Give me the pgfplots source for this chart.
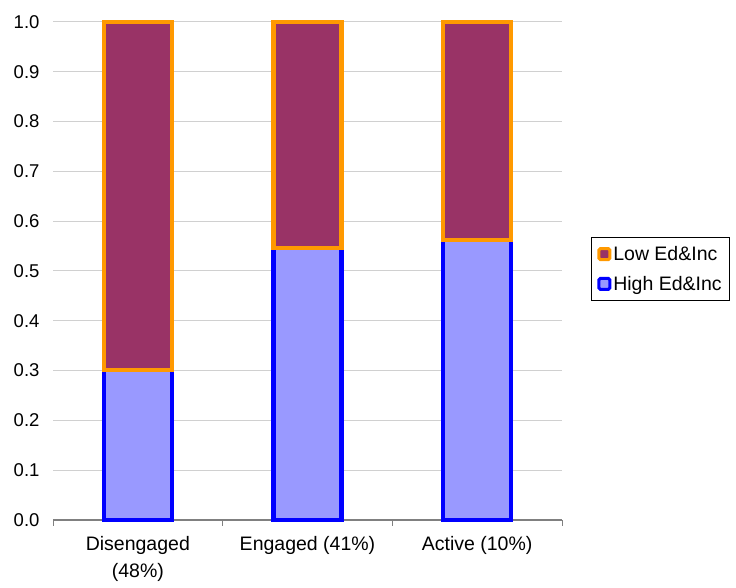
\documentclass[border=0pt]{standalone}
\usepackage{pgfplots}
\pgfplotsset{compat=1.18}
\usepackage{fontspec}
\setmainfont{Liberation Sans}

\definecolor{lowfill}{HTML}{993366}
\definecolor{lowedge}{HTML}{FF9900}
\definecolor{highfill}{HTML}{9999FF}
\definecolor{highedge}{HTML}{0000FF}
\definecolor{gridgray}{HTML}{D0D0D0}
\definecolor{axisgray}{HTML}{808080}

\begin{document}
\begin{tikzpicture}
\begin{axis}[
  set layers,
  scale only axis,
  width=509pt, height=498pt,
  clip=false,
  ybar stacked,
  bar width=68pt,
  xmin=-0.5, xmax=2.5,
  ymin=0, ymax=1,
  % category boundaries carry the tick marks
  xtick={-0.5,0.5,1.5,2.5},
  xticklabels={},
  x tick style={draw=axisgray, line width=1pt},
  tick align=outside,
  major tick length=6pt,
  % category names sit at the bar centres
  extra x ticks={0,1,2},
  extra x tick labels={Disengaged\\(48\%), Engaged (41\%), Active (10\%)},
  extra x tick style={major tick length=0pt, grid=none},
  xticklabel style={align=center, yshift=-13pt,
    font=\fontsize{19.5}{27}\selectfont},
  ytick={0,0.1,...,1.0},
  y tick style={draw=none},
  yticklabel style={/pgf/number format/fixed, /pgf/number format/fixed zerofill,
    /pgf/number format/precision=1, xshift=-4pt,
    font=\fontsize{18.5}{22}\selectfont},
  /pgf/number format/assume math mode=true,
  ymajorgrids,
  grid style={draw=gridgray, line width=1pt},
  axis x line*=bottom,
  axis y line*=left,
  y axis line style={draw=none},
  x axis line style={draw=axisgray, line width=1.2pt, -},
  reverse legend,
  legend style={at={(1.057,0.504)}, anchor=west, draw=black, line width=0.6pt,
    font=\fontsize{19.5}{23}\selectfont, inner xsep=6pt, inner ysep=7pt,
    row sep=10pt, cells={anchor=west}},
  legend image code/.code={\draw[#1, line width=3pt, rounded corners=1.5pt]
    (0pt,-5.5pt) rectangle (11pt,5.5pt);},
]
\addplot[fill=highfill, draw=highedge, line width=4.5pt] coordinates
  {(0,0.301) (1,0.546) (2,0.562)};
\addplot[fill=lowfill, draw=lowedge, line width=4.5pt, on layer=axis foreground]
  coordinates {(0,0.699) (1,0.454) (2,0.438)};
\legend{High Ed\&Inc, Low Ed\&Inc}
\end{axis}
% page frame around the axis box
\pgfresetboundingbox
\useasboundingbox ([shift={(-53pt,-68pt)}]current axis.south west) rectangle
      ([shift={(174pt,22pt)}]current axis.north east);
\end{tikzpicture}
\end{document}
